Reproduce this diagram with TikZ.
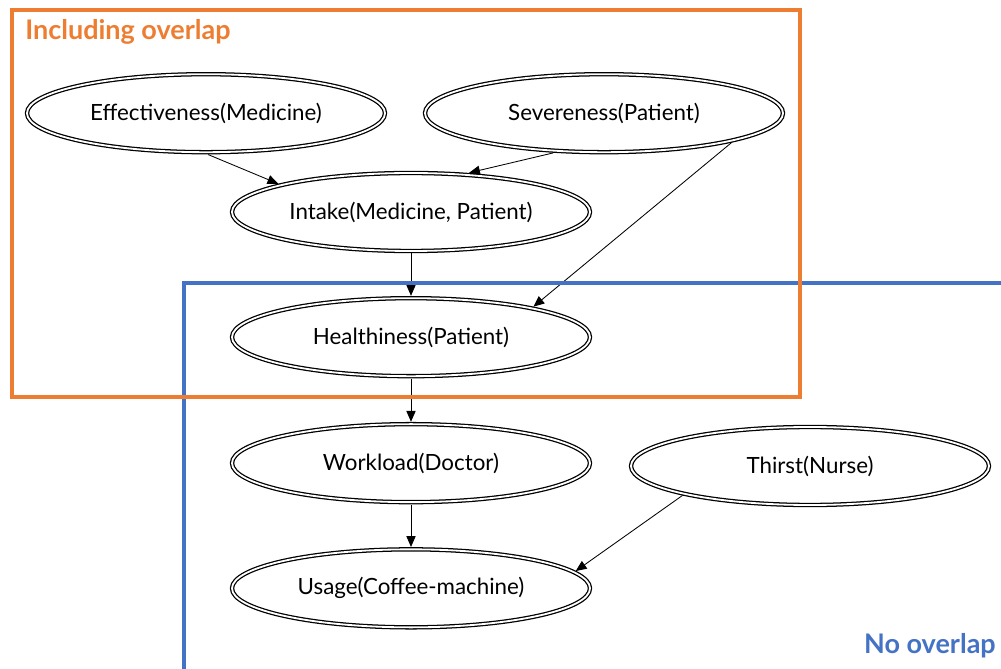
\documentclass[tikz,border=0pt]{standalone}
\usepackage{fontspec}
\setmainfont{Lato}
\usepackage{xcolor}
\usepackage{tikz}
\usetikzlibrary{shapes.geometric, arrows.meta, positioning}

\definecolor{overlaporange}{RGB}{237,125,49}
\definecolor{overlapblue}{RGB}{68,114,196}

\begin{document}
\begin{tikzpicture}[
  node distance=1.06cm,
  var/.style={draw, ellipse, double, line width=0.9pt, double distance=1.3pt,
              fill=white, minimum width=8.95cm, minimum height=1.95cm,
              inner sep=0pt, outer sep=1.7pt,
              font=\fontsize{15.9}{19}\selectfont},
  arrow/.style={-{Triangle[length=2.7mm, width=2.3mm]}, line width=0.6pt},
  region/.style={line width=2.9pt},
  tag/.style={inner sep=0pt, font=\fontsize{19.2}{23}\selectfont\bfseries},
]
\useasboundingbox (0,0) rectangle (25.025,-16.725);

%% Top row
\node[var] (eff) at (5.15,-2.83)  {Effectiveness(Medicine)};
\node[var] (sev) at (15.1,-2.83)  {Severeness(Patient)};

%% Middle column
\node[var] (intake) at (10.275,-5.3) {Intake(Medicine, Patient)};
\node[var, below=of intake] (health) {Healthiness(Patient)};
\node[var, below=1.08cm of health] (work) {Workload(Doctor)};
\node[var, below=of work] (usage) {Usage(Coffee-machine)};

%% Side node
\node[var] (thirst) at (20.25,-11.65) {Thirst(Nurse)};

%% Edges
\draw[arrow] (eff.-87) -- (intake.168);
\draw[arrow] (sev.-142) -- (intake.34);
\draw[arrow] (sev.-13) -- (health.14);
\draw[arrow] (intake) -- (health);
\draw[arrow] (health) -- (work);
\draw[arrow] (work) -- (usage);
\draw[arrow] (thirst.193) -- (usage.6);

%% Regions
\draw[region, overlapblue] (4.6,-7.075) rectangle (26,-17.5);
\draw[region, overlaporange] (0.3,-0.25) rectangle (20,-9.925);

\node[tag, overlaporange, anchor=base west] (inc) at (0.625,-0.98) {Including overlap};
\node[tag, overlapblue, anchor=base east] (nov) at (24.9,-16.33) {No overlap};

\end{tikzpicture}
\end{document}
